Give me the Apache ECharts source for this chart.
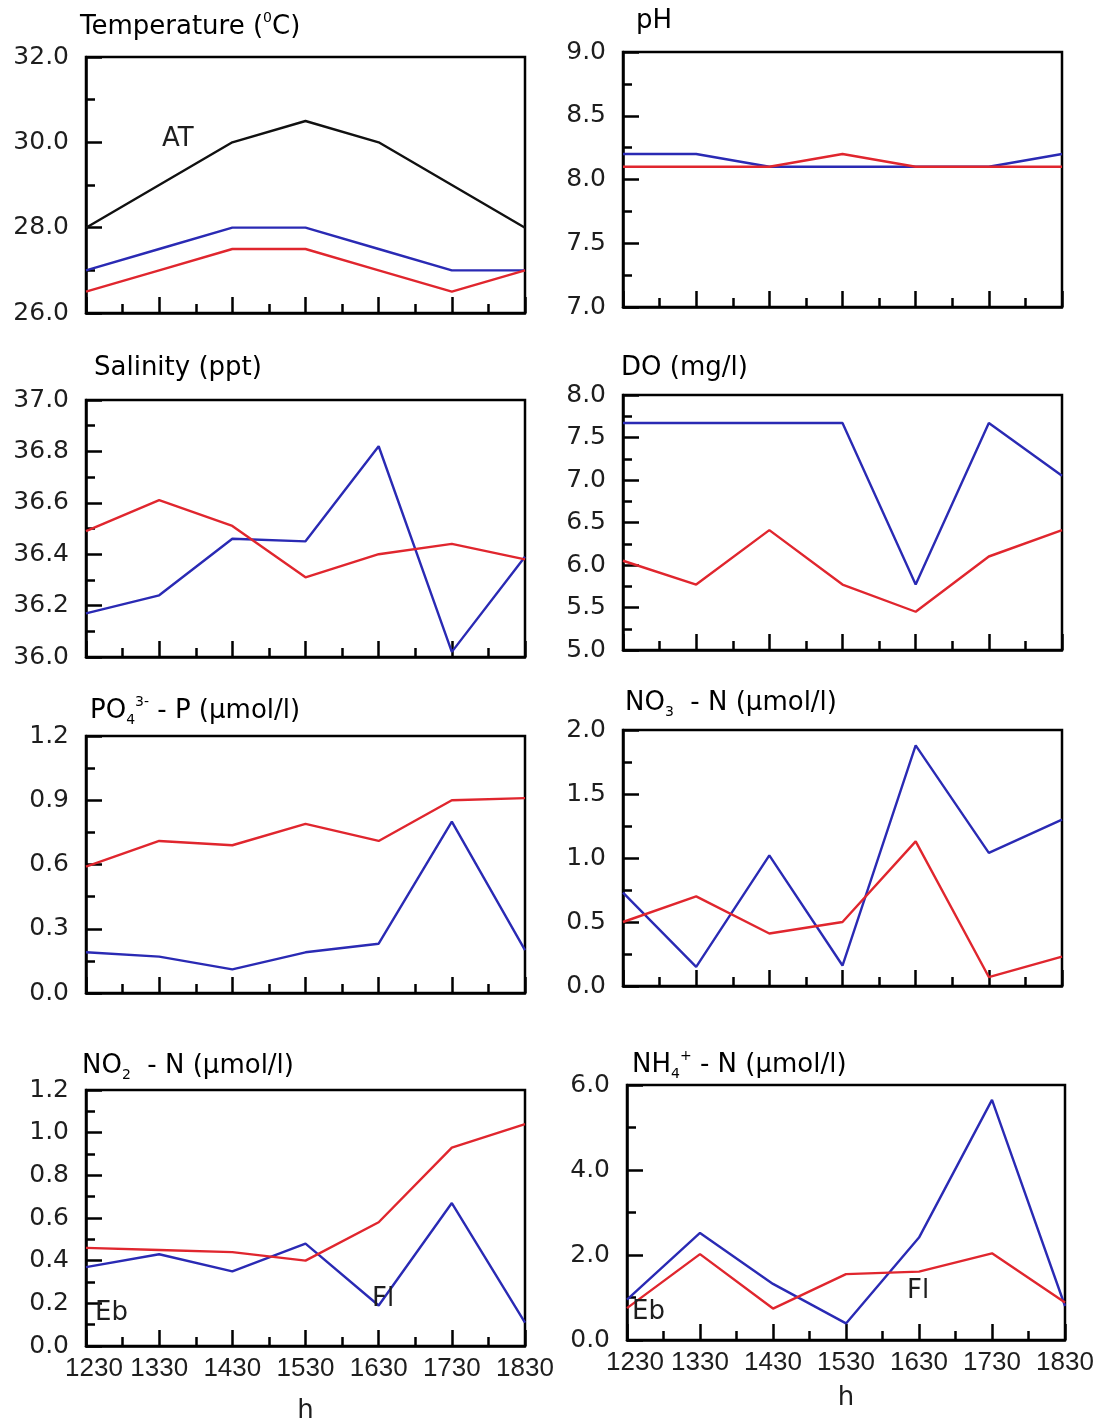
<!DOCTYPE html>
<html>
<head>
<meta charset="utf-8">
<title>Diurnal water quality</title>
<script src="https://cdn.jsdelivr.net/npm/echarts@6/dist/echarts.min.js"></script>
<style>
  html, body { margin: 0; padding: 0; background: #fff; }
  #chart { width: 1096px; height: 1423px; }
</style>
</head>
<body>
<div id="chart"></div>
<script>
// Sampling times (h)
const hours = ['1230', '1330', '1430', '1530', '1630', '1730', '1830'];

// Temperature (°C): air temperature and the two water series
const tempAir  = [28.0, 29.0, 30.0, 30.5, 30.0, 29.0, 28.0];
const tempBlue = [27.0, 27.5, 28.0, 28.0, 27.5, 27.0, 27.0];
const tempRed  = [26.5, 27.0, 27.5, 27.5, 27.0, 26.5, 27.0];

// pH
const phBlue = [8.2, 8.2, 8.1, 8.1, 8.1, 8.1, 8.2];
const phRed  = [8.1, 8.1, 8.1, 8.2, 8.1, 8.1, 8.1];

// Salinity (ppt)
const salBlue = [36.17, 36.24, 36.46, 36.45, 36.82, 36.02, 36.39];
const salRed  = [36.49, 36.61, 36.51, 36.31, 36.40, 36.44, 36.38];

// Dissolved oxygen (mg/l)
const doBlue = [7.67, 7.67, 7.67, 7.67, 5.77, 7.67, 7.05];
const doRed  = [6.05, 5.77, 6.41, 5.77, 5.45, 6.10, 6.41];

// Phosphate PO4-P (µmol/l)
const po4Blue = [0.19, 0.17, 0.11, 0.19, 0.23, 0.80, 0.20];
const po4Red  = [0.59, 0.71, 0.69, 0.79, 0.71, 0.90, 0.91];

// Nitrate NO3-N (µmol/l)
const no3Blue = [0.73, 0.15, 1.02, 0.16, 1.88, 1.04, 1.30];
const no3Red  = [0.50, 0.70, 0.41, 0.50, 1.13, 0.07, 0.23];

// Nitrite NO2-N (µmol/l)
const no2Blue = [0.37, 0.43, 0.35, 0.48, 0.19, 0.67, 0.11];
const no2Red  = [0.46, 0.45, 0.44, 0.40, 0.58, 0.93, 1.04];

// Ammonium NH4-N (µmol/l)
const nh4Blue = [0.95, 2.52, 1.32, 0.39, 2.41, 5.65, 0.80];
const nh4Red  = [0.75, 2.02, 0.74, 1.55, 1.61, 2.04, 0.88];

const BLUE = '#2a2ab4';
const RED = '#e0262e';
const BLACK = '#111111';
const INK = '#1e1e1e';
const FONT = 'DejaVu Sans, Liberation Sans, sans-serif';
const ARIAL = 'Liberation Sans, Arial, sans-serif';

// Panel layout: grid rectangle, y range, tick step, label decimals
const panels = [
  { left: 86,  top: 57,   width: 439, height: 256, min: 26,  max: 32,  step: 2,   dec: 1, series: [[tempAir, BLACK], [tempBlue, BLUE], [tempRed, RED]] },
  { left: 623, top: 52,   width: 439, height: 255, min: 7,   max: 9,   step: 0.5, dec: 1, series: [[phBlue, BLUE], [phRed, RED]] },
  { left: 86,  top: 400,  width: 439, height: 257, min: 36,  max: 37,  step: 0.2, dec: 1, series: [[salBlue, BLUE], [salRed, RED]] },
  { left: 623, top: 395,  width: 439, height: 255, min: 5,   max: 8,   step: 0.5, dec: 1, series: [[doBlue, BLUE], [doRed, RED]] },
  { left: 86,  top: 736,  width: 439, height: 257, min: 0,   max: 1.2, step: 0.3, dec: 1, series: [[po4Blue, BLUE], [po4Red, RED]] },
  { left: 623, top: 730,  width: 439, height: 256, min: 0,   max: 2,   step: 0.5, dec: 1, series: [[no3Blue, BLUE], [no3Red, RED]] },
  { left: 86,  top: 1090, width: 439, height: 256, min: 0,   max: 1.2, step: 0.2, dec: 1, series: [[no2Blue, BLUE], [no2Red, RED]], bottom: true },
  { left: 627, top: 1085, width: 438, height: 255, min: 0,   max: 6,   step: 2,   dec: 1, series: [[nh4Blue, BLUE], [nh4Red, RED]], bottom: true }
];

// Hour labels; the first one is nudged clear of the y-axis zero label
const hourRich = {
  first: { fontSize: 26, fontFamily: ARIAL, color: INK, padding: [0, 0, 0, 16] },
  rest:  { fontSize: 26, fontFamily: ARIAL, color: INK }
};

const grid = [], xAxis = [], yAxis = [], series = [];
panels.forEach((p, i) => {
  grid.push({
    left: p.left, top: p.top, width: p.width, height: p.height,
    outerBoundsMode: 'none', containLabel: false,
    show: true, borderColor: '#000', borderWidth: 2.5, backgroundColor: 'transparent'
  });
  xAxis.push({
    type: 'value', gridIndex: i, min: 0, max: hours.length - 1, interval: 1,
    axisLine: { lineStyle: { color: '#000', width: 2.5 } },
    axisTick: { inside: true, length: 16, lineStyle: { color: '#000', width: 2.5 } },
    minorTick: { show: true, splitNumber: 2, length: 9, lineStyle: { color: '#000', width: 2.5 } },
    splitLine: { show: false },
    axisLabel: {
      show: !!p.bottom, color: INK, fontSize: 26, fontFamily: ARIAL,
      margin: 10, hideOverlap: false, rich: hourRich,
      formatter: v => hours[v] ? (v === 0 ? '{first|' + hours[v] + '}' : '{rest|' + hours[v] + '}') : ''
    },
    name: p.bottom ? 'h' : '', nameLocation: 'middle', nameGap: i === 6 ? 52 : 45,
    nameTextStyle: { color: INK, fontSize: 26, fontFamily: FONT }
  });
  yAxis.push({
    type: 'value', gridIndex: i, min: p.min, max: p.max, interval: p.step,
    axisLine: { lineStyle: { color: '#000', width: 2.5 } },
    axisTick: { inside: true, length: 16, lineStyle: { color: '#000', width: 2.5 } },
    minorTick: { show: true, splitNumber: 2, length: 9, lineStyle: { color: '#000', width: 2.5 } },
    splitLine: { show: false },
    axisLabel: {
      color: INK, fontSize: 25, fontFamily: FONT, margin: 17,
      formatter: v => v.toFixed(p.dec)
    }
  });
  p.series.forEach(([vals, color]) => {
    series.push({
      type: 'line', xAxisIndex: i, yAxisIndex: i,
      data: vals.map((v, k) => [k, v]),
      showSymbol: false, symbol: 'none',
      lineStyle: { color: color, width: 2.4 },
      itemStyle: { color: color },
      animation: false, z: 3
    });
  });
});

// Panel headings with sub/superscripts
const rich = {
  n:   { fontSize: 26, fontFamily: FONT, color: INK, lineHeight: 32 },
  sub: { fontSize: 14, fontFamily: FONT, color: INK, lineHeight: 14, verticalAlign: 'bottom' },
  sup: { fontSize: 14, fontFamily: FONT, color: INK, lineHeight: 14, verticalAlign: 'top' }
};
const titles = [
  { x: 80,  y: 23,   text: '{n|Temperature (}{sup|0}{n|C)}' },
  { x: 636, y: 20,   text: '{n|pH}' },
  { x: 94,  y: 367,  text: '{n|Salinity (ppt)}' },
  { x: 621, y: 367,  text: '{n|DO (mg/l)}' },
  { x: 90,  y: 707,  text: '{n|PO}{sub|4}{sup|3-}{n| - P (µmol/l)}' },
  { x: 625, y: 702,  text: '{n|NO}{sub|3}{n|  - N (µmol/l)}' },
  { x: 82,  y: 1065, text: '{n|NO}{sub|2}{n|  - N (µmol/l)}' },
  { x: 632, y: 1061, text: '{n|NH}{sub|4}{sup|+}{n| - N (µmol/l)}' }
];

// In-plot annotations
const notes = [
  { x: 162, y: 139,  text: 'AT' },
  { x: 95,  y: 1313, text: 'Eb' },
  { x: 372, y: 1299, text: 'Fl' },
  { x: 632, y: 1312, text: 'Eb' },
  { x: 907, y: 1291, text: 'Fl' }
];

const graphic = titles.map(t => ({
  type: 'text', left: t.x, top: t.y - 12, z: 10,
  style: { text: t.text, rich: rich }
})).concat(notes.map(n => ({
  type: 'text', x: n.x, y: n.y, z: 10,
  style: { text: n.text, fill: INK, font: '26px ' + FONT, verticalAlign: 'middle', align: 'left' }
})));

const chart = echarts.init(document.getElementById('chart'), null, { renderer: 'canvas' });
chart.setOption({
  animation: false,
  backgroundColor: '#fff',
  grid, xAxis, yAxis, series, graphic
});
</script>
</body>
</html>
